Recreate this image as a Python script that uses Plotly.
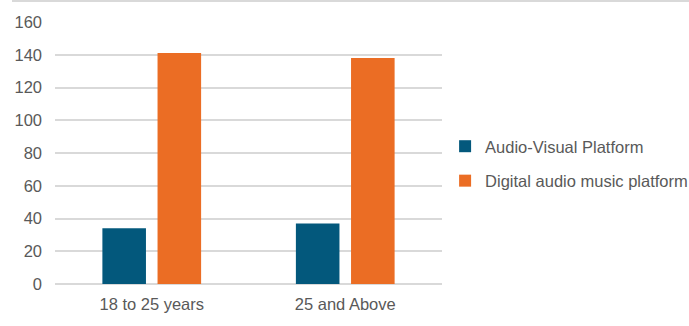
import plotly.graph_objects as go

categories = ["18 to 25 years", "25 and Above"]
series_names = ["Audio-Visual Platform", "Digital audio music platform"]
audio_visual = [34, 37]
digital_audio = [141, 138]
colors = ["#03587c", "#eb6d24"]
y_ticks = [0, 20, 40, 60, 80, 100, 120, 140, 160]

fig = go.Figure()
for name, vals, col in zip(series_names, [audio_visual, digital_audio], colors):
    fig.add_trace(go.Bar(
        x=categories, y=vals, name=name, legendgroup=name,
        marker=dict(color=col, line=dict(width=0)),
    ))

fig.update_layout(
    width=689, height=326,
    margin=dict(l=55, r=247, t=22, b=42, autoexpand=False),
    paper_bgcolor="white", plot_bgcolor="white",
    font=dict(family="Liberation Sans, Arial, sans-serif", size=16.5, color="#595959"),
    barmode="group", bargap=0.43, bargroupgap=0.21,
    showlegend=True,
    legend=dict(
        x=1.008, xanchor="left", y=0.46, yanchor="middle",
        traceorder="grouped", tracegroupgap=10,
        bgcolor="rgba(0,0,0,0)",
        font=dict(size=16.5, color="#595959"),
        itemwidth=30,
    ),
    xaxis=dict(showgrid=False, showline=False, ticks="", ticklabelstandoff=8),
    yaxis=dict(
        range=[0, 160], tickvals=y_ticks, showgrid=True, gridcolor="#d9d9d9",
        gridwidth=1.5, zeroline=True, zerolinecolor="#d9d9d9", zerolinewidth=1.5,
        showline=False, ticks="", ticklabelstandoff=12,
    ),
    shapes=[dict(type="line", xref="paper", yref="paper", layer="above",
                 x0=-43/387, x1=634/387, y0=283/262, y1=283/262,
                 line=dict(color="#d9d9d9", width=2))],
)

fig.write_html("out.html")
